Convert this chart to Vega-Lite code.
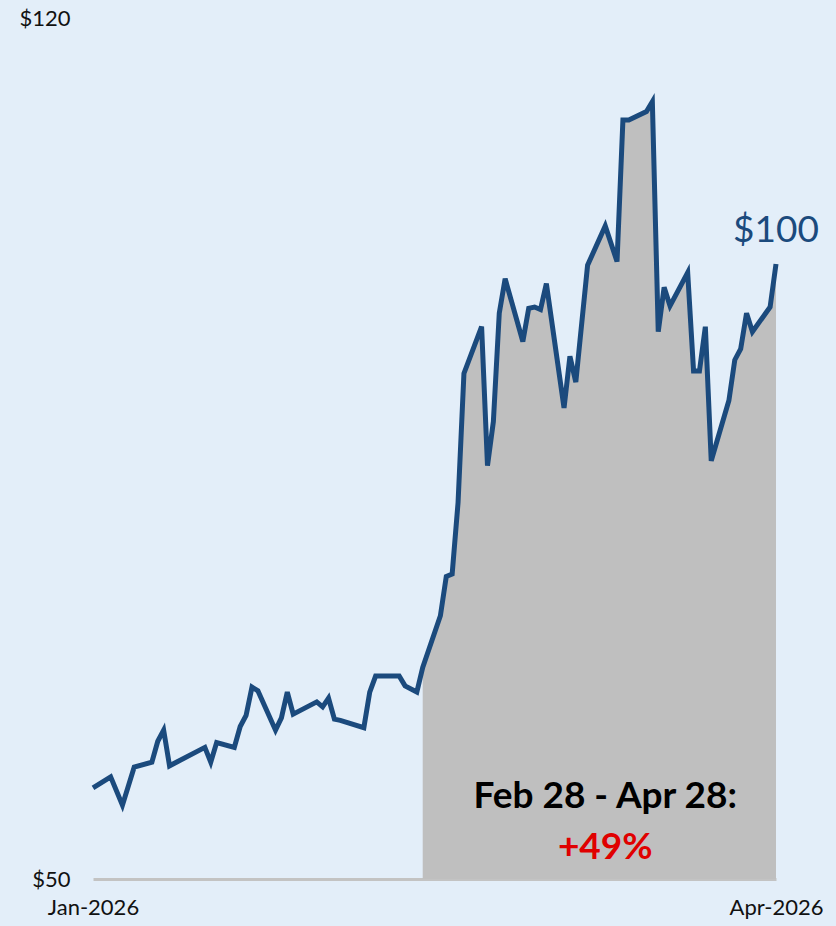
{
  "$schema": "https://vega.github.io/schema/vega-lite/v6.json",
  "width": 683,
  "height": 861,
  "autosize": {"type": "none"},
  "padding": {"left": 93, "top": 18, "right": 60, "bottom": 47},
  "background": "#e3eef9",
  "config": {
    "view": {"stroke": null},
    "font": "Lato"
  },
  "data": {
    "values": [
      {"date": "2026-01-02", "price": 57.4},
      {"date": "2026-01-05", "price": 58.3},
      {"date": "2026-01-07", "price": 56.0},
      {"date": "2026-01-09", "price": 59.1},
      {"date": "2026-01-12", "price": 59.5},
      {"date": "2026-01-13", "price": 61.2},
      {"date": "2026-01-14", "price": 62.1},
      {"date": "2026-01-15", "price": 59.2},
      {"date": "2026-01-21", "price": 60.7},
      {"date": "2026-01-22", "price": 59.5},
      {"date": "2026-01-23", "price": 61.1},
      {"date": "2026-01-26", "price": 60.7},
      {"date": "2026-01-27", "price": 62.4},
      {"date": "2026-01-28", "price": 63.3},
      {"date": "2026-01-29", "price": 65.6},
      {"date": "2026-01-30", "price": 65.3},
      {"date": "2026-02-02", "price": 62.1},
      {"date": "2026-02-03", "price": 63.1},
      {"date": "2026-02-04", "price": 65.2},
      {"date": "2026-02-05", "price": 63.4},
      {"date": "2026-02-09", "price": 64.4},
      {"date": "2026-02-10", "price": 64.0},
      {"date": "2026-02-11", "price": 64.7},
      {"date": "2026-02-12", "price": 63.0},
      {"date": "2026-02-13", "price": 62.9},
      {"date": "2026-02-17", "price": 62.3},
      {"date": "2026-02-18", "price": 65.2},
      {"date": "2026-02-19", "price": 66.5},
      {"date": "2026-02-23", "price": 66.5},
      {"date": "2026-02-24", "price": 65.7},
      {"date": "2026-02-26", "price": 65.2},
      {"date": "2026-02-27", "price": 67.2},
      {"date": "2026-03-02", "price": 71.4},
      {"date": "2026-03-03", "price": 74.6},
      {"date": "2026-03-04", "price": 74.8},
      {"date": "2026-03-05", "price": 80.6},
      {"date": "2026-03-06", "price": 91.1},
      {"date": "2026-03-09", "price": 94.9},
      {"date": "2026-03-10", "price": 83.6},
      {"date": "2026-03-11", "price": 87.2},
      {"date": "2026-03-12", "price": 96.0},
      {"date": "2026-03-13", "price": 98.8},
      {"date": "2026-03-16", "price": 93.7},
      {"date": "2026-03-17", "price": 96.4},
      {"date": "2026-03-18", "price": 96.5},
      {"date": "2026-03-19", "price": 96.3},
      {"date": "2026-03-20", "price": 98.4},
      {"date": "2026-03-23", "price": 88.3},
      {"date": "2026-03-24", "price": 92.5},
      {"date": "2026-03-25", "price": 90.4},
      {"date": "2026-03-27", "price": 99.9},
      {"date": "2026-03-30", "price": 103.1},
      {"date": "2026-04-01", "price": 100.2},
      {"date": "2026-04-02", "price": 111.7},
      {"date": "2026-04-03", "price": 111.7},
      {"date": "2026-04-06", "price": 112.4},
      {"date": "2026-04-07", "price": 113.2},
      {"date": "2026-04-08", "price": 94.5},
      {"date": "2026-04-09", "price": 98.1},
      {"date": "2026-04-10", "price": 96.6},
      {"date": "2026-04-13", "price": 99.3},
      {"date": "2026-04-14", "price": 91.3},
      {"date": "2026-04-15", "price": 91.3},
      {"date": "2026-04-16", "price": 94.9},
      {"date": "2026-04-17", "price": 84.0},
      {"date": "2026-04-20", "price": 88.9},
      {"date": "2026-04-21", "price": 92.2},
      {"date": "2026-04-22", "price": 93.1},
      {"date": "2026-04-23", "price": 96.0},
      {"date": "2026-04-24", "price": 94.5},
      {"date": "2026-04-27", "price": 96.5},
      {"date": "2026-04-28", "price": 100.0}
    ]
  },
  "encoding": {
    "x": {
      "field": "date",
      "type": "temporal",
      "title": null,
      "scale": {
        "type": "utc",
        "domain": [
          {"year": 2026, "month": 1, "date": 2, "utc": true},
          {"year": 2026, "month": 4, "date": 28, "utc": true}
        ]
      },
      "axis": {
        "values": [
          {"year": 2026, "month": 1, "date": 2, "utc": true},
          {"year": 2026, "month": 4, "date": 28, "utc": true}
        ],
        "labelExpr": "utcFormat(datum.value, '%b-%Y')",
        "grid": false,
        "ticks": false,
        "tickSize": 0,
        "domain": true,
        "domainColor": "#c3c3c3",
        "domainWidth": 3,
        "labelFont": "Lato",
        "labelFontSize": 22,
        "labelColor": "#111111",
        "labelPadding": 18,
        "labelFlush": false,
        "labelOverlap": false
      }
    },
    "y": {
      "field": "price",
      "type": "quantitative",
      "title": null,
      "scale": {"domain": [50, 120], "zero": false, "nice": false},
      "axis": {
        "values": [50, 120],
        "labelExpr": "'$' + datum.value",
        "grid": false,
        "ticks": false,
        "tickSize": 0,
        "domain": false,
        "labelFont": "Lato",
        "labelFontSize": 22,
        "labelColor": "#111111",
        "labelPadding": 23,
        "labelFlush": false
      }
    }
  },
  "layer": [
    {
      "transform": [{"filter": "time(datum.date) >= utc(2026, 1, 27)"}],
      "mark": {"type": "area", "color": "#bfbfbf", "opacity": 1},
      "encoding": {"y2": {"datum": 50}}
    },
    {
      "mark": {"type": "line", "color": "#1b4a7d", "strokeWidth": 5}
    },
    {
      "transform": [{"filter": "time(datum.date) >= utc(2026, 3, 28)"}],
      "mark": {
        "type": "text",
        "text": "$100",
        "color": "#1b4a7d",
        "fontSize": 37,
        "font": "Lato",
        "dy": -33,
        "align": "center",
        "baseline": "middle"
      }
    },
    {
      "data": {"values": [{"date": "2026-03-30", "price": 56.7, "label": "Feb 28 - Apr 28:"}]},
      "mark": {
        "type": "text",
        "color": "#000000",
        "fontSize": 37,
        "fontWeight": "bold",
        "font": "Lato",
        "align": "center",
        "baseline": "middle"
      },
      "encoding": {"text": {"field": "label"}}
    },
    {
      "data": {"values": [{"date": "2026-03-30", "price": 52.5, "label": "+49%"}]},
      "mark": {
        "type": "text",
        "color": "#e00000",
        "fontSize": 37,
        "fontWeight": "bold",
        "font": "Lato",
        "align": "center",
        "baseline": "middle"
      },
      "encoding": {"text": {"field": "label"}}
    }
  ]
}
